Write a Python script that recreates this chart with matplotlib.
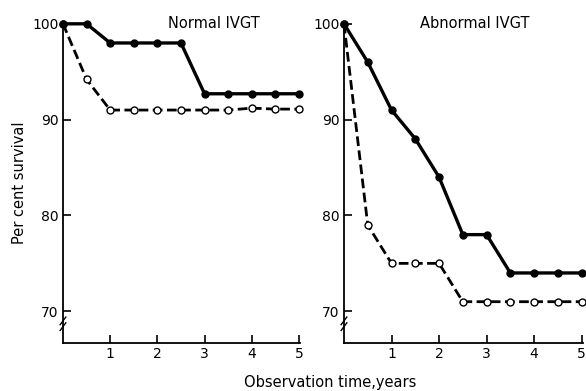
import matplotlib
matplotlib.use("Agg")
import matplotlib.pyplot as plt

plt.rcParams['font.family'] = ['DejaVu Sans']

years = [0, 0.5, 1, 1.5, 2, 2.5, 3, 3.5, 4, 4.5, 5]
normal_solid = [100, 100, 98, 98, 98, 98, 92.7, 92.7, 92.7, 92.7, 92.7]
normal_dashed = [100, 94.2, 91, 91, 91, 91, 91, 91, 91.2, 91.1, 91.1]
abnormal_solid = [100, 96, 91, 88, 84, 78, 78, 74, 74, 74, 74]
abnormal_dashed = [100, 79, 75, 75, 75, 71, 71, 71, 71, 71, 71]
titles = ["Normal IVGT", "Abnormal IVGT"]
yticks = [70, 80, 90, 100]
xticks = [1, 2, 3, 4, 5]

fig = plt.figure(figsize=(5.86, 3.91), dpi=100)
ax1 = fig.add_axes([0.1075, 0.123, 0.405, 0.821])
ax2 = fig.add_axes([0.587, 0.123, 0.408, 0.821])

panels = [(ax1, normal_solid, normal_dashed, titles[0], 3.2),
          (ax2, abnormal_solid, abnormal_dashed, titles[1], 2.75)]

for ax, solid, dashed, title, tx in panels:
    ax.plot(years, dashed, color='black', lw=2.0, ls=(0, (3.5, 1.6)),
            marker='o', ms=5, mfc='white', mec='black', mew=1.0, clip_on=False, zorder=3)
    ax.plot(years, solid, color='black', lw=2.4, ls='-',
            marker='o', ms=5, mfc='black', mec='black', clip_on=False, zorder=4)
    ax.set_xlim(0, 5.03)
    ax.set_ylim(66.7, 100.2)
    ax.set_xticks(xticks)
    ax.set_yticks(yticks)
    ax.tick_params(direction='in', length=6, width=1.2, labelsize=10, pad=3)
    for s in ['top', 'right']:
        ax.spines[s].set_visible(False)
    for s in ['left', 'bottom']:
        ax.spines[s].set_linewidth(1.3)
    ax.text(tx, 100, title, ha='center', va='center', fontsize=10.5)
    # axis break marks
    ax.plot([-0.06, 0.06], [68.6, 69.4], color='black', lw=1, clip_on=False)
    ax.plot([-0.06, 0.06], [68.0, 68.8], color='black', lw=1, clip_on=False)

ax1.set_ylabel("Per cent survival", fontsize=10.5, labelpad=4)
fig.text(0.563, 0.022, "Observation time,years", ha='center', va='center', fontsize=10.5)

fig.savefig("out.png", dpi=100)
